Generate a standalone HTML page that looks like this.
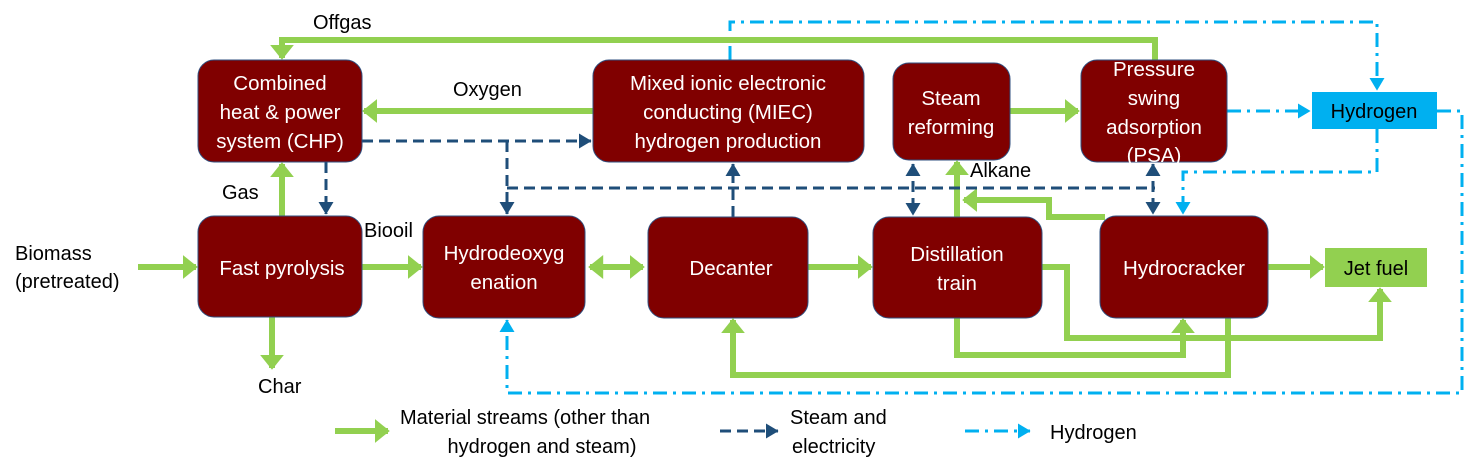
<!DOCTYPE html>
<html><head><meta charset="utf-8"><style>
html,body{margin:0;padding:0;background:#fff;}
svg{display:block;}
text{font-family:"Liberation Sans",sans-serif;font-size:20px;}
.w{fill:#fff;text-anchor:middle;font-size:20.5px;}
.b{fill:#000;}
.g{stroke:#92d050;stroke-width:6;fill:none;}
.n{stroke:#1f4e79;stroke-width:3;fill:none;stroke-dasharray:11 6;}
.c{stroke:#00b0f0;stroke-width:3;fill:none;stroke-dasharray:14 6 3 6;}
.box{fill:#800000;stroke:#2f4f7f;stroke-width:1;}
</style></head><body>
<svg width="1465" height="474" viewBox="0 0 1465 474" xmlns="http://www.w3.org/2000/svg">
<defs>
<marker id="ga" markerWidth="4" markerHeight="4" refX="2.2" refY="2" orient="auto" markerUnits="strokeWidth"><path d="M0,0 L2.5,2 L0,4z" fill="#92d050"/></marker>
<marker id="na" markerWidth="6" markerHeight="6" refX="4" refY="3" orient="auto" markerUnits="strokeWidth"><path d="M0,0.5 L4.2,3 L0,5.5z" fill="#1f4e79"/></marker>
<marker id="ca" markerWidth="6" markerHeight="6" refX="4" refY="3" orient="auto" markerUnits="strokeWidth"><path d="M0,0.5 L4.2,3 L0,5.5z" fill="#00b0f0"/></marker>
<marker id="gs" markerWidth="4" markerHeight="4" refX="0.3" refY="2" orient="auto" markerUnits="strokeWidth"><path d="M2.5,0 L0,2 L2.5,4z" fill="#92d050"/></marker>
<marker id="ns" markerWidth="6" markerHeight="6" refX="0.2" refY="3" orient="auto" markerUnits="strokeWidth"><path d="M4.2,0.5 L0,3 L4.2,5.5z" fill="#1f4e79"/></marker>
</defs>

<path class="c" d="M730,60 V22 H1377 V90" marker-end="url(#ca)"/>
<path class="c" d="M1227,111 H1310" marker-end="url(#ca)"/>
<path class="c" d="M1377,129 V172 H1183 V214" marker-end="url(#ca)"/>
<path class="c" d="M1437,111 H1462 V393 H507 V320" marker-end="url(#ca)"/>

<path class="g" d="M1155,60 V40 H282 V58" marker-end="url(#ga)"/>
<path class="g" d="M593,111 H364" marker-end="url(#ga)"/>
<path class="g" d="M282,216 V164" marker-end="url(#ga)"/>
<path class="g" d="M272,317 V368" marker-end="url(#ga)"/>
<path class="g" d="M138,267 H196" marker-end="url(#ga)"/>
<path class="g" d="M362,267 H421" marker-end="url(#ga)"/>
<path class="g" d="M590,267 H643" marker-start="url(#gs)" marker-end="url(#ga)"/>
<path class="g" d="M808,267 H871" marker-end="url(#ga)"/>
<path class="g" d="M957,217 V162" marker-end="url(#ga)"/>
<path class="g" d="M1105,217 H1049 V200 H964" marker-end="url(#ga)"/>
<path class="g" d="M1010,111 H1078" marker-end="url(#ga)"/>
<path class="g" d="M1268,267 H1323" marker-end="url(#ga)"/>
<path class="g" d="M1042,267 H1067 V338 H1380 V289" marker-end="url(#ga)"/>
<path class="g" d="M957,318 V355 H1183 V320" marker-end="url(#ga)"/>
<path class="g" d="M1228,318 V375 H733 V320" marker-end="url(#ga)"/>

<path class="n" d="M362,141 H591" marker-end="url(#na)"/>
<path class="n" d="M507,141 V214" marker-end="url(#na)"/>
<path class="n" d="M326,162 V214" marker-end="url(#na)"/>
<path class="n" d="M507,188 H1155"/>
<path class="n" d="M733,217 V164" marker-end="url(#na)"/>
<path class="n" d="M913,164 V215" marker-start="url(#ns)" marker-end="url(#na)"/>
<path class="n" d="M1153,164 V214" marker-start="url(#ns)" marker-end="url(#na)"/>

<rect class="box" x="198" y="60" width="164" height="102" rx="16"/>
<rect class="box" x="593" y="60" width="271" height="102" rx="16"/>
<rect class="box" x="893" y="63" width="117" height="97" rx="16"/>
<rect class="box" x="1081" y="60" width="146" height="102" rx="16"/>
<rect x="1312" y="92" width="125" height="37" fill="#00b0f0"/>
<rect class="box" x="198" y="216" width="164" height="101" rx="16"/>
<rect class="box" x="423" y="216" width="162" height="102" rx="16"/>
<rect class="box" x="648" y="217" width="160" height="101" rx="16"/>
<rect class="box" x="873" y="217" width="169" height="101" rx="16"/>
<rect class="box" x="1100" y="216" width="168" height="102" rx="16"/>
<rect x="1325" y="248" width="102" height="39" fill="#92d050"/>

<text class="w" x="280" y="90">Combined</text>
<text class="w" x="280" y="119">heat &amp; power</text>
<text class="w" x="280" y="148">system (CHP)</text>
<text class="w" x="728" y="90">Mixed ionic electronic</text>
<text class="w" x="728" y="119">conducting (MIEC)</text>
<text class="w" x="728" y="148">hydrogen production</text>
<text class="w" x="951" y="105">Steam</text>
<text class="w" x="951" y="134">reforming</text>
<text class="w" x="1154" y="76">Pressure</text>
<text class="w" x="1154" y="105">swing</text>
<text class="w" x="1154" y="134">adsorption</text>
<text class="w" x="1154" y="162">(PSA)</text>
<text class="b" x="1374" y="118" text-anchor="middle">Hydrogen</text>
<text class="w" x="282" y="275">Fast pyrolysis</text>
<text class="w" x="504" y="260">Hydrodeoxyg</text>
<text class="w" x="504" y="289">enation</text>
<text class="w" x="731" y="275">Decanter</text>
<text class="w" x="957" y="261">Distillation</text>
<text class="w" x="957" y="290">train</text>
<text class="w" x="1184" y="275">Hydrocracker</text>
<text class="b" x="1376" y="275" text-anchor="middle">Jet fuel</text>

<text class="b" x="313" y="29">Offgas</text>
<text class="b" x="453" y="96">Oxygen</text>
<text class="b" x="222" y="199">Gas</text>
<text class="b" x="364" y="237">Biooil</text>
<text class="b" x="15" y="260">Biomass</text>
<text class="b" x="15" y="288">(pretreated)</text>
<text class="b" x="258" y="393">Char</text>
<text class="b" x="970" y="177">Alkane</text>

<path class="g" d="M335,431 H388" marker-end="url(#ga)"/>
<text class="b" x="400" y="424">Material streams (other than</text>
<text class="b" x="542" y="453" text-anchor="middle">hydrogen and steam)</text>
<path class="n" d="M720,431 H778" marker-end="url(#na)"/>
<text class="b" x="790" y="424">Steam and</text>
<text class="b" x="792" y="453">electricity</text>
<path class="c" d="M965,431 H1030" marker-end="url(#ca)"/>
<text class="b" x="1050" y="439">Hydrogen</text>
</svg>
</body></html>
